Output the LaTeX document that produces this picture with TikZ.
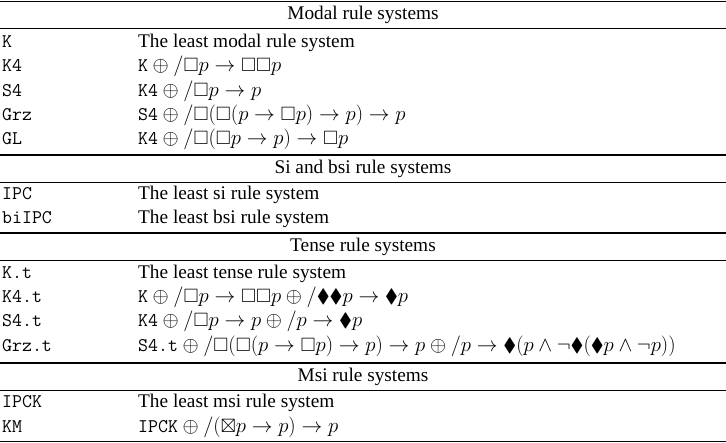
\documentclass[tikz,border=0pt]{standalone}
\usepackage{amssymb}
\usepackage[no-math]{fontspec}
\setmainfont{Liberation Serif}
\begin{document}
\begin{tikzpicture}[x=1pt,y=-1pt,
 every node/.style={inner sep=0pt,font=\fontsize{19.3}{23}\selectfont},
 c1/.style={anchor=base west,font=\fontsize{19.3}{23}\selectfont\ttfamily},
 c2/.style={anchor=base west},
 hd/.style={anchor=base},
 rule/.style={line width=1.2pt},
 thin/.style={line width=0.8pt}]
\useasboundingbox (0,0) rectangle (726,443);
\draw[rule] (0,1.5) -- (726,1.5);
\draw[thin] (0,28) -- (726,28);
\draw[rule] (0,155) -- (726,155);
\draw[thin] (0,182) -- (726,182);
\draw[rule] (0,233) -- (726,233);
\draw[thin] (0,260) -- (726,260);
\draw[rule] (0,363) -- (726,363);
\draw[thin] (0,390) -- (726,390);
\draw[rule] (0,441.5) -- (726,441.5);
\node[hd] (h1) at (363,20) {Modal rule systems};
\node[hd] (h2) at (363,174) {Si and bsi rule systems};
\node[hd] (h3) at (363,252) {Tense rule systems};
\node[hd] (h4) at (363,382) {Msi rule systems};
\newcommand{\rowX}[4]{\node[c1] (#1a) at (2,#2) {#3}; \node[c2] (#1b) at (138,#2) {#4};}
\rowX{k}{48}{K}{The least modal rule system}
\rowX{kf}{72}{K4}{$\texttt{K}\oplus/\Box p\to\Box\Box p$}
\rowX{sf}{97}{S4}{$\texttt{K4}\oplus/\Box p\to p$}
\rowX{grz}{121}{Grz}{$\texttt{S4}\oplus/\Box(\Box(p\to\Box p)\to p)\to p$}
\rowX{gl}{145}{GL}{$\texttt{K4}\oplus/\Box(\Box p\to p)\to\Box p$}
\rowX{ipc}{200}{IPC}{The least si rule system}
\rowX{bi}{224}{biIPC}{The least bsi rule system}
\rowX{kt}{279}{K.t}{The least tense rule system}
\rowX{kft}{303}{K4.t}{$\texttt{K}\oplus/\Box p\to\Box\Box p\oplus/\blacklozenge\blacklozenge p\to\blacklozenge p$}
\rowX{sft}{327}{S4.t}{$\texttt{K4}\oplus/\Box p\to p\oplus/p\to\blacklozenge p$}
\rowX{gt}{352}{Grz.t}{$\texttt{S4.t}\oplus/\Box(\Box(p\to\Box p)\to p)\to p\oplus/p\to\blacklozenge(p\wedge\neg\blacklozenge(\blacklozenge p\wedge\neg p))$}
\rowX{ipck}{408}{IPCK}{The least msi rule system}
\rowX{km}{433}{KM}{$\texttt{IPCK}\oplus/(\boxtimes p\to p)\to p$}
\end{tikzpicture}
\end{document}
